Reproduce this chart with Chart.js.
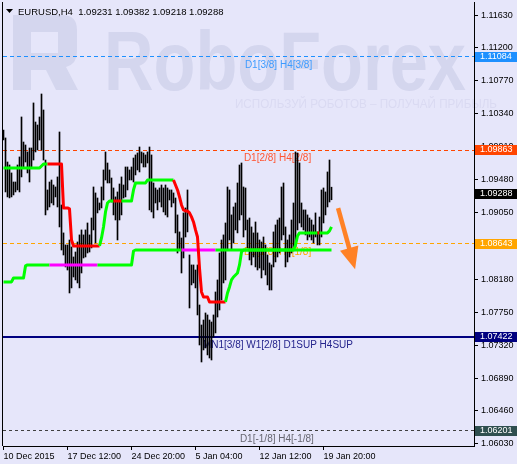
<!DOCTYPE html>
<html>
<head>
<meta charset="utf-8">
<script src="https://cdn.jsdelivr.net/npm/chart.js@4.4.1/dist/chart.umd.min.js"></script>
<style>
  html, body { margin: 0; padding: 0; background: #e6e6fa; }
  canvas { display: block; }
</style>
</head>
<body>
<canvas id="c" width="517" height="464"></canvas>
<script>
'use strict';

// ------------------------------------------------------------
// data (EURUSD H4)
// ------------------------------------------------------------
const SYMBOL = 'EURUSD,H4';
const LAST_OHLC = [1.09231, 1.09382, 1.09218, 1.09288];

const highs = [
  1.10129, 1.10025, 1.09711, 1.09672, 1.09568, 1.09450, 1.09450, 1.09672, 1.09777, 1.10299,
  1.09972, 1.09933, 1.09842, 1.09894, 1.09894, 1.10482, 1.10233, 1.10194, 1.10299, 1.10599,
  1.10390, 1.09737, 1.09346, 1.09450, 1.09476, 1.09411, 1.09385, 1.09516, 1.10103, 1.09150,
  1.08785, 1.08628, 1.08628, 1.08693, 1.08602, 1.08471, 1.08536, 1.08667, 1.08759, 1.08824,
  1.08759, 1.08824, 1.08915, 1.08759, 1.08980, 1.09385, 1.09307, 1.09241, 1.09176, 1.09385,
  1.09607, 1.09842, 1.09698, 1.09607, 1.09502, 1.09372, 1.09255, 1.09320, 1.09424, 1.09516,
  1.09411, 1.09646, 1.09646, 1.09607, 1.09646, 1.09763, 1.09803, 1.09829, 1.09907, 1.09842,
  1.09829, 1.09803, 1.09842, 1.09907, 1.09803, 1.09437, 1.09372, 1.09346, 1.09372, 1.09411,
  1.09372, 1.09411, 1.09372, 1.09346, 1.09346, 1.09307, 1.09241, 1.09020, 1.08798, 1.08719,
  1.09046, 1.09111, 1.09346, 1.08497, 1.08367, 1.08367, 1.08301, 1.08367, 1.07844, 1.07583,
  1.07648, 1.07740, 1.07714, 1.07648, 1.07622, 1.07714, 1.08014, 1.08171, 1.08523, 1.08693,
  1.08759, 1.08915, 1.09385, 1.09346, 1.09020, 1.09124, 1.09176, 1.09437, 1.09672, 1.09698,
  1.09385, 1.09372, 1.08954, 1.08980, 1.08863, 1.08785, 1.08928, 1.08785, 1.08693, 1.08667,
  1.08732, 1.08628, 1.08497, 1.08393, 1.08367, 1.08798, 1.08889, 1.08954, 1.08980, 1.09385,
  1.09437, 1.08863, 1.08693, 1.08759, 1.08954, 1.09176, 1.09842, 1.09829, 1.09698, 1.09176,
  1.09085, 1.09085, 1.09020, 1.08980, 1.08954, 1.08889, 1.09046, 1.08798, 1.08993, 1.09346,
  1.09372, 1.09320, 1.09581, 1.09737, 1.09382
];

const lows = [
  1.09998, 1.09320, 1.09255, 1.09242, 1.09255, 1.09281, 1.09320, 1.09346, 1.09320, 1.09516,
  1.09646, 1.09711, 1.09568, 1.09450, 1.09633, 1.09737, 1.09842, 1.09868, 1.09998, 1.09868,
  1.09737, 1.09020, 1.09085, 1.09124, 1.09176, 1.09150, 1.09255, 1.09124, 1.08863, 1.08562,
  1.08497, 1.08341, 1.08301, 1.08001, 1.08067, 1.08210, 1.08171, 1.08132, 1.08067, 1.08262,
  1.08458, 1.08471, 1.08523, 1.08536, 1.08589, 1.08824, 1.08654, 1.09046, 1.09085, 1.09111,
  1.09215, 1.09476, 1.09437, 1.09437, 1.09189, 1.09020, 1.08954, 1.08693, 1.08954, 1.09020,
  1.09241, 1.09255, 1.09346, 1.09476, 1.09476, 1.09450, 1.09542, 1.09607, 1.09581, 1.09698,
  1.09646, 1.09646, 1.09698, 1.09085, 1.09059, 1.08980, 1.09176, 1.09085, 1.09189, 1.09124,
  1.09059, 1.09020, 1.08993, 1.09215, 1.09124, 1.09176, 1.08785, 1.08523, 1.08562, 1.08262,
  1.08458, 1.08732, 1.08798, 1.07805, 1.08106, 1.08132, 1.08067, 1.07714, 1.07322, 1.07100,
  1.07257, 1.07283, 1.07192, 1.07152, 1.07126, 1.07426, 1.07479, 1.07687, 1.07779, 1.07910,
  1.08132, 1.08171, 1.08562, 1.08693, 1.08562, 1.08654, 1.08824, 1.08785, 1.08954, 1.09020,
  1.08732, 1.08824, 1.08589, 1.08432, 1.08367, 1.08471, 1.08341, 1.08301, 1.08327, 1.08197,
  1.08301, 1.08236, 1.08106, 1.08040, 1.08040, 1.08341, 1.08406, 1.08471, 1.08523, 1.08693,
  1.08759, 1.08341, 1.08406, 1.08471, 1.08523, 1.08602, 1.08602, 1.08824, 1.08915, 1.08863,
  1.08824, 1.08759, 1.08693, 1.08732, 1.08693, 1.08654, 1.08732, 1.08628, 1.08628, 1.08732,
  1.08915, 1.09020, 1.09124, 1.09189, 1.09218
];

// trailing step lines (one value per bar)
const upperLine = [
  1.09633, 1.09633, 1.09633, 1.09633, 1.09633, 1.09633, 1.09633, 1.09633, 1.09633, 1.09633,
  1.09633, 1.09633, 1.09633, 1.09633, 1.09633, 1.09633, 1.09633, 1.09633, 1.09633, 1.09659,
  1.09685, 1.09685, 1.09685, 1.09685, 1.09685, 1.09685, 1.09685, 1.09685, 1.09685, 1.09685,
  1.09111, 1.09111, 1.09111, 1.09098, 1.08693, 1.08615, 1.08615, 1.08615, 1.08615, 1.08615,
  1.08615, 1.08615, 1.08615, 1.08615, 1.08615, 1.08615, 1.08615, 1.08615, 1.08615, 1.08719,
  1.08863, 1.09059, 1.09176, 1.09202, 1.09202, 1.09202, 1.09202, 1.09202, 1.09202, 1.09202,
  1.09202, 1.09202, 1.09202, 1.09202, 1.09202, 1.09346, 1.09437, 1.09437, 1.09437, 1.09437,
  1.09437, 1.09437, 1.09476, 1.09476, 1.09476, 1.09476, 1.09476, 1.09476, 1.09476, 1.09476,
  1.09476, 1.09476, 1.09476, 1.09476, 1.09476, 1.09476, 1.09411, 1.09346, 1.09255, 1.09150,
  1.09085, 1.09072, 1.09072, 1.09046, 1.08994, 1.08928, 1.08824, 1.08732, 1.08327, 1.08014,
  1.07949, 1.07949, 1.07949, 1.07884, 1.07884, 1.07884, 1.07884, 1.07884, 1.07884, 1.07884,
  1.07884, 1.07884, 1.08001, 1.08080, 1.08171, 1.08210, 1.08236, 1.08262, 1.08367, 1.08536,
  1.08562, 1.08562, 1.08562, 1.08562, 1.08562, 1.08562, 1.08562, 1.08562, 1.08562, 1.08562,
  1.08562, 1.08562, 1.08562, 1.08562, 1.08562, 1.08562, 1.08562, 1.08562, 1.08562, 1.08562,
  1.08562, 1.08562, 1.08562, 1.08562, 1.08562, 1.08562, 1.08628, 1.08745, 1.08785, 1.08785,
  1.08785, 1.08785, 1.08785, 1.08785, 1.08785, 1.08785, 1.08785, 1.08785, 1.08785, 1.08785,
  1.08785, 1.08785, 1.08785, 1.08811, 1.08863
];

const lowerLine = [
  1.08145, 1.08145, 1.08145, 1.08145, 1.08145, 1.08197, 1.08197, 1.08197, 1.08197, 1.08197,
  1.08197, 1.08354, 1.08367, 1.08367, 1.08367, 1.08367, 1.08367, 1.08367, 1.08367, 1.08367,
  1.08367, 1.08367, 1.08367, 1.08367, 1.08367, 1.08367, 1.08367, 1.08367, 1.08367, 1.08367,
  1.08367, 1.08367, 1.08367, 1.08367, 1.08367, 1.08367, 1.08367, 1.08367, 1.08367, 1.08367,
  1.08367, 1.08367, 1.08367, 1.08367, 1.08367, 1.08367, 1.08367, 1.08367, 1.08367, 1.08367,
  1.08367, 1.08367, 1.08367, 1.08367, 1.08367, 1.08367, 1.08367, 1.08367, 1.08367, 1.08367,
  1.08367, 1.08367, 1.08367, 1.08367, 1.08367, 1.08549, 1.08562, 1.08562, 1.08562, 1.08562,
  1.08562, 1.08562, 1.08562, 1.08562, 1.08562, 1.08562, 1.08562, 1.08562, 1.08562, 1.08562,
  1.08562, 1.08562, 1.08562, 1.08562, 1.08562, 1.08562, 1.08562, 1.08562, 1.08562, 1.08562,
  1.08562, 1.08562, 1.08562, 1.08562, 1.08562, 1.08562, 1.08562, 1.08562, 1.08562, 1.08562,
  1.08562, 1.08562, 1.08562, 1.08562, 1.08562, 1.08562, 1.08562, 1.08562, 1.08562, 1.08562,
  1.08562, 1.08562, 1.08562, 1.08562, 1.08562, 1.08562, 1.08562, 1.08562, 1.08562, 1.08562,
  1.08562, 1.08562, 1.08562, 1.08562, 1.08562, 1.08562, 1.08562, 1.08562, 1.08562, 1.08562,
  1.08562, 1.08562, 1.08562, 1.08562, 1.08562, 1.08562, 1.08562, 1.08562, 1.08562, 1.08562,
  1.08562, 1.08562, 1.08562, 1.08562, 1.08562, 1.08562, 1.08562, 1.08562, 1.08562, 1.08562,
  1.08562, 1.08562, 1.08562, 1.08562, 1.08562, 1.08562, 1.08562, 1.08562, 1.08562, 1.08562,
  1.08562, 1.08562, 1.08562, 1.08562, 1.08562
];

// bar index ranges where the lines switch colour
const upperRedRanges = [[22, 48], [55, 59], [85, 111], [157, 158]];
const lowerMagentaRanges = [[23, 47], [89, 106]];

// axes
const timeTickIdx = [0, 32, 64, 96, 128, 160];
const timeTickLabels = ['10 Dec 2015', '17 Dec 12:00', '24 Dec 20:00', '5 Jan 04:00', '12 Jan 12:00', '19 Jan 20:00'];
const priceTicks = [1.11630, 1.11200, 1.10770, 1.10340, 1.09910, 1.09480, 1.09050,
                    1.08620, 1.08180, 1.07750, 1.07320, 1.06890, 1.06460, 1.06030];

// Murrey levels
const levelPrices = [1.11084, 1.09863, 1.08643, 1.07422, 1.06201];
const levelTexts = ['D1[3/8] H4[3/8]', 'D1[2/8] H4[2/8]', 'D1[1/8] H4[1/8]',
                    'MN1[3/8] W1[2/8] D1SUP H4SUP', 'D1[-1/8] H4[-1/8]'];

// ------------------------------------------------------------
// styles
// ------------------------------------------------------------
const FONT = '"Liberation Sans", Arial, sans-serif';
const BG = '#e6e6fa';
const GREEN = '#00ff00';
const RED = '#ff0000';
const MAGENTA = '#ff00ff';

const LEVEL_STYLE = [
  { line: '#1e90ff', text: '#3d9bff', box: '#1e90ff', dash: [4, 3], width: 1, textIdx: 120.7 },
  { line: '#ff4500', text: '#ff5533', box: '#ff4500', dash: [4, 3], width: 1, textIdx: 120.2 },
  { line: '#ffa500', text: '#ffa500', box: '#ffa500', dash: [4, 3], width: 1, textIdx: 120.2 },
  { line: '#000080', text: '#24248c', box: '#000080', dash: [],     width: 2, textIdx: 99.7 },
  { line: '#404040', text: '#666670', box: '#2f4f4f', dash: [3, 3], width: 1, textIdx: 118.2 },
];

// arrow annotation (bar index / price)
const ARROW = { from: [167.3, 1.0911], to: [175.8, 1.0831], color: '#ff8125' };

function inRanges(ranges, i) {
  return ranges.some(r => i >= r[0] && i < r[1]);
}

function drawWatermark(ctx) {
  ctx.save();
  ctx.fillStyle = '#d4d6ee';
  // logo block
  ctx.beginPath();
  ctx.moveTo(13, 15);
  ctx.lineTo(62, 15);
  ctx.quadraticCurveTo(77, 15, 77, 30);
  ctx.lineTo(77, 52);
  ctx.quadraticCurveTo(77, 64, 66, 67);
  ctx.lineTo(78, 90);
  ctx.lineTo(56, 90);
  ctx.lineTo(46, 70);
  ctx.lineTo(31, 70);
  ctx.lineTo(31, 90);
  ctx.lineTo(13, 90);
  ctx.closePath();
  ctx.moveTo(31, 32);
  ctx.lineTo(58, 32);
  ctx.lineTo(58, 53);
  ctx.lineTo(31, 53);
  ctx.closePath();
  ctx.fill('evenodd');

  // name
  ctx.font = 'bold 84px ' + FONT;
  ctx.textBaseline = 'alphabetic';
  const w = ctx.measureText('RoboForex').width;
  ctx.translate(104, 90);
  ctx.scale(362 / w, 1);
  ctx.fillText('RoboForex', 0, 0);
  ctx.restore();

  ctx.save();
  ctx.fillStyle = '#dadaf2';
  ctx.font = '12px ' + FONT;
  const s = 'ИСПОЛЬЗУЙ РОБОТОВ – ПОЛУЧАЙ ПРИБЫЛЬ';
  const sw = ctx.measureText(s).width;
  ctx.translate(235, 108);
  ctx.scale(262 / sw, 1);
  ctx.fillText(s, 0, 0);
  ctx.restore();
}

const mtPlugin = {
  id: 'mt',
  beforeDraw(chart) {
    const ctx = chart.ctx;
    ctx.save();
    ctx.fillStyle = BG;
    ctx.fillRect(0, 0, chart.width, chart.height);
    ctx.restore();
    drawWatermark(ctx);
  },
  beforeDatasetsDraw(chart) {
    const { ctx, chartArea: a, scales: { x, y } } = chart;
    ctx.save();
    levelPrices.forEach((p, k) => {
      const st = LEVEL_STYLE[k];
      const py = y.getPixelForValue(p);
      ctx.strokeStyle = st.line;
      ctx.lineWidth = st.width;
      ctx.setLineDash(st.dash);
      const yy = st.width === 1 ? Math.floor(py) + 0.5 : Math.round(py);
      ctx.beginPath();
      ctx.moveTo(a.left, yy);
      ctx.lineTo(a.right, yy);
      ctx.stroke();
    });
    ctx.setLineDash([]);
    ctx.font = '10px ' + FONT;
    ctx.textBaseline = 'middle';
    ctx.textAlign = 'left';
    levelTexts.forEach((t, k) => {
      const st = LEVEL_STYLE[k];
      ctx.fillStyle = st.text;
      ctx.fillText(t, x.getPixelForValue(st.textIdx), y.getPixelForValue(levelPrices[k]) + 8);
    });
    ctx.restore();
  },
  afterDatasetsDraw(chart) {
    const { ctx, scales: { x, y } } = chart;
    const x0 = x.getPixelForValue(ARROW.from[0]), y0 = y.getPixelForValue(ARROW.from[1]);
    const x1 = x.getPixelForValue(ARROW.to[0]), y1 = y.getPixelForValue(ARROW.to[1]);
    const dx = x1 - x0, dy = y1 - y0, len = Math.hypot(dx, dy);
    const ux = dx / len, uy = dy / len;
    const headLen = 22, headHalf = 9.5;
    const bx = x1 - ux * headLen, by = y1 - uy * headLen;
    ctx.save();
    ctx.strokeStyle = ARROW.color;
    ctx.fillStyle = ARROW.color;
    ctx.lineWidth = 4.5;
    ctx.beginPath();
    ctx.moveTo(x0, y0);
    ctx.lineTo(bx + ux * 2, by + uy * 2);
    ctx.stroke();
    ctx.beginPath();
    ctx.moveTo(x1, y1);
    ctx.lineTo(bx - uy * headHalf, by + ux * headHalf);
    ctx.lineTo(bx + uy * headHalf, by - ux * headHalf);
    ctx.closePath();
    ctx.fill();
    ctx.restore();
  },
  afterDraw(chart) {
    const { ctx, chartArea: a, scales: { y } } = chart;
    ctx.save();
    // left frame
    ctx.strokeStyle = '#000';
    ctx.lineWidth = 1;
    ctx.beginPath();
    ctx.moveTo(a.left - 0.5, a.top);
    ctx.lineTo(a.left - 0.5, a.bottom);
    ctx.stroke();

    // price boxes on the axis
    ctx.font = '9px ' + FONT;
    ctx.textBaseline = 'middle';
    ctx.textAlign = 'left';
    const box = (p, color) => {
      const py = Math.round(y.getPixelForValue(p));
      ctx.fillStyle = color;
      ctx.fillRect(a.right + 1, py - 5, chart.width - a.right - 1, 10);
      ctx.fillStyle = '#fff';
      ctx.fillText(p.toFixed(5), a.right + 6, py);
    };
    levelPrices.forEach((p, k) => box(p, LEVEL_STYLE[k].box));
    box(LAST_OHLC[3], '#000');

    // title
    ctx.fillStyle = '#000';
    ctx.beginPath();
    ctx.moveTo(6, 9);
    ctx.lineTo(13, 9);
    ctx.lineTo(9.5, 13);
    ctx.closePath();
    ctx.fill();
    ctx.font = '9.5px ' + FONT;
    ctx.textBaseline = 'alphabetic';
    ctx.fillText(SYMBOL + '  ' + LAST_OHLC.map(v => v.toFixed(5)).join(' '), 18, 14.5);
    ctx.restore();
  }
};

new Chart(document.getElementById('c'), {
  type: 'bar',
  data: {
    datasets: [
      {
        type: 'line',
        data: upperLine.map((v, i) => ({ x: i, y: v })),
        borderColor: GREEN,
        borderWidth: 3,
        pointRadius: 0,
        tension: 0,
        borderJoinStyle: 'round',
        segment: { borderColor: c => inRanges(upperRedRanges, c.p0DataIndex) ? RED : GREEN },
        order: 0,
      },
      {
        type: 'line',
        data: lowerLine.map((v, i) => ({ x: i, y: v })),
        borderColor: GREEN,
        borderWidth: 3,
        pointRadius: 0,
        tension: 0,
        borderJoinStyle: 'round',
        segment: { borderColor: c => inRanges(lowerMagentaRanges, c.p0DataIndex) ? MAGENTA : GREEN },
        order: 1,
      },
      {
        type: 'bar',
        data: highs.map((h, i) => ({ x: i, y: [lows[i], h] })),
        backgroundColor: '#000',
        borderWidth: 0,
        barThickness: 1,
        order: 2,
      },
    ],
  },
  options: {
    responsive: false,
    animation: false,
    devicePixelRatio: 1,
    layout: { padding: { left: 3, top: 2, right: 0, bottom: 0 } },
    plugins: { legend: { display: false }, tooltip: { enabled: false } },
    scales: {
      x: {
        type: 'linear',
        min: -0.25,
        max: 235.25,
        offset: false,
        grid: { drawOnChartArea: false, drawTicks: true, tickLength: 4, color: '#000', offset: false },
        border: { display: true, color: '#000' },
        ticks: {
          align: 'start',
          padding: 1,
          maxRotation: 0,
          autoSkip: false,
          color: '#000',
          font: { family: FONT, size: 9 },
          callback: v => timeTickLabels[timeTickIdx.indexOf(v)] || '',
        },
        afterBuildTicks: s => { s.ticks = timeTickIdx.map(v => ({ value: v })); },
        afterFit: s => { s.height = 18; s.paddingLeft = 0; s.paddingRight = 0; },
      },
      y: {
        position: 'right',
        min: 1.06003,
        max: 1.11800,
        beginAtZero: false,
        grid: { drawOnChartArea: false, drawTicks: true, tickLength: 4, color: '#000' },
        border: { display: true, color: '#000' },
        ticks: {
          padding: 3,
          autoSkip: false,
          color: '#000',
          font: { family: FONT, size: 9 },
          callback: v => v.toFixed(5),
        },
        afterBuildTicks: s => { s.ticks = priceTicks.map(v => ({ value: v })); },
        afterFit: s => { s.width = 43; s.paddingTop = 0; s.paddingBottom = 0; },
      },
    },
  },
  plugins: [mtPlugin],
});
</script>
</body>
</html>
